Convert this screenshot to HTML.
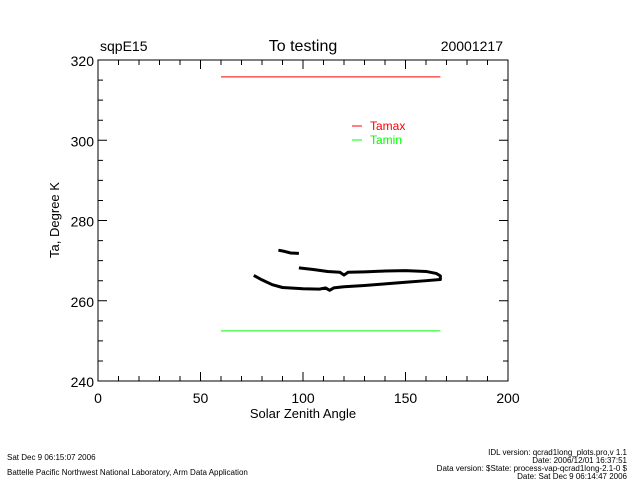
<!DOCTYPE html>
<html><head><meta charset="utf-8"><style>
body{margin:0;background:#fff;}
svg{display:block;font-family:"Liberation Sans",sans-serif;}
</style></head><body>
<svg id="chart" width="640" height="480" viewBox="0 0 640 480">
<text x="100" y="51" font-size="14">sqpE15</text>
<text x="303" y="51" font-size="16" text-anchor="middle">To testing</text>
<text x="503" y="51" font-size="14" text-anchor="end">20001217</text>
<g id="axes"></g>
<g id="marks"></g>
<text x="303" y="418" font-size="13" text-anchor="middle">Solar Zenith Angle</text>
<text transform="translate(59,220) rotate(-90)" font-size="13" text-anchor="middle">Ta, Degree K</text>
<line x1="352" y1="126" x2="362" y2="126" stroke="#f00"/>
<text x="370" y="130" font-size="12" fill="#f00">Tamax</text>
<line x1="352" y1="140" x2="362" y2="140" stroke="#0f0"/>
<text x="370" y="144" font-size="12" fill="#0f0">Tamin</text>
<g font-size="8">
<text x="7" y="460">Sat Dec  9 06:15:07 2006</text>
<text x="7" y="475">Battelle Pacific Northwest National Laboratory, Arm Data Application</text>
<text x="627" y="455" text-anchor="end">IDL version: qcrad1long_plots.pro,v 1.1</text>
<text x="627" y="463" text-anchor="end">Date: 2006/12/01 16:37:51</text>
<text x="627" y="471" text-anchor="end">Data version: $State: process-vap-qcrad1long-2.1-0 $</text>
<text x="627" y="479" text-anchor="end">Date: Sat Dec  9 06:14:47 2006</text>
</g>
</svg>
<script>
const xTicks=[0,50,100,150,200];
const yTicks=[240,260,280,300,320];
const tamaxX=[60,167], tamaxY=[315.8,315.8];
const taminX=[60,167], taminY=[252.5,252.5];
const seg1X=[88,91,94,98], seg1Y=[272.6,272.3,271.9,271.8];
const loopX=[98,105,112,118,120,122,130,140,150,160,165,167,167,160,150,140,130,120,115,113,111,108,100,90,85,80,76];
const loopY=[268.2,267.8,267.3,267.1,266.4,267.1,267.2,267.4,267.5,267.3,266.8,266.2,265.3,265.0,264.6,264.2,263.8,263.5,263.2,262.6,263.2,262.9,263.0,263.3,264.0,265.2,266.3];

const L=98,R=508,T=60,B=381;
const sx=v=>L+(v-0)/(200-0)*(R-L);
const sy=v=>B-(v-240)/(320-240)*(B-T);
const NS="http://www.w3.org/2000/svg";
const axes=document.getElementById('axes'), marks=document.getElementById('marks');
function mk(tag,attrs,parent){const e=document.createElementNS(NS,tag);for(const k in attrs)e.setAttribute(k,attrs[k]);parent.appendChild(e);return e;}
const frame=mk('rect',{x:L,y:T,width:R-L,height:B-T,fill:'none',stroke:'#000'},axes);


let d='';
for(let v=0;v<=200;v+=10){const x=sx(v);const len=v%50===0?9:5;d+=`M${x} ${B}v${-len}M${x} ${T}v${len}`;}
for(let v=240;v<=320;v+=5){const y=sy(v);const len=v%20===0?9:5;d+=`M${L} ${y}h${len}M${R} ${y}h${-len}`;}
const tk=mk('path',{d:d,stroke:'#000',fill:'none'},axes);


xTicks.forEach(v=>{const t=mk('text',{x:sx(v),y:B+22,'font-size':14,'text-anchor':'middle'},axes);t.textContent=v;

});
yTicks.forEach(v=>{const t=mk('text',{x:L-4,y:sy(v)+6,'font-size':14,'text-anchor':'end'},axes);t.textContent=v;

});
function line(xs,ys,color,w,name){const pts=xs.map((x,i)=>sx(x)+','+sy(ys[i])).join(' ');
const p=mk('polyline',{points:pts,fill:'none',stroke:color,'stroke-width':w,'stroke-linejoin':'round'},marks);

}
line(tamaxX,tamaxY,'#f00',1,'tamax-line');
line(taminX,taminY,'#0f0',1,'tamin-line');
line(seg1X,seg1Y,'#000',3,'ta-segment');
line(loopX,loopY,'#000',3,'ta-loop');
</script>
</body></html>
